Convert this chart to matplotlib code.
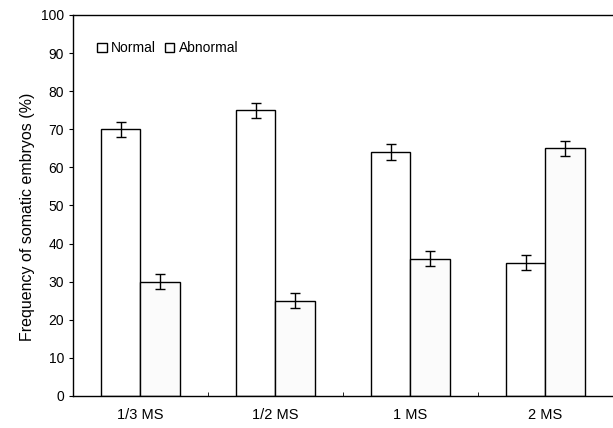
import matplotlib
matplotlib.use("Agg")
import matplotlib.pyplot as plt
import numpy as np

plt.rcParams["font.family"] = ["Liberation Sans", "DejaVu Sans"]

# data
media = ["1/3 MS", "1/2 MS", "1 MS", "2 MS"]
normal = [70, 75, 64, 35]
abnormal = [30, 25, 36, 65]
normal_err = [2, 2, 2, 2]
abnormal_err = [2, 2, 2, 2]

fig = plt.figure(figsize=(6.13, 4.28), dpi=100)
ax = fig.add_axes([0.119, 0.075, 0.881, 0.89])

x = np.arange(len(media))
w = 0.29
ekw = dict(ecolor="black", elinewidth=1.0, capsize=3.5, capthick=1.0)
ax.bar(x - w / 2, normal, w, yerr=normal_err, color="white", edgecolor="black",
       lw=1.0, error_kw=ekw, label="Normal")
ax.bar(x + w / 2, abnormal, w, yerr=abnormal_err, color="#fbfbfb", edgecolor="black",
       lw=1.0, error_kw=ekw, label="Abnormal")

ax.set_xlim(-0.5, 3.5)
ax.set_ylim(0, 100)
ax.set_yticks(range(0, 101, 10))
ax.set_xticks(x)
ax.set_xticklabels(media, fontsize=10.5)
ax.tick_params(axis="x", length=0, pad=9)
ax.tick_params(axis="y", labelsize=10, length=3, direction="out")
ax.set_xticks([0.5, 1.5, 2.5], minor=True)
ax.tick_params(axis="x", which="minor", length=3, direction="in")
ax.spines["right"].set_visible(False)
for s in ("left", "bottom", "top"):
    ax.spines[s].set_linewidth(1.0)
ax.set_ylabel("Frequency of somatic embryos (%)", fontsize=11.5)
ax.yaxis.set_label_coords(-0.07, 0.47)

ax.legend(loc="upper left", bbox_to_anchor=(0.035, 0.945), ncol=2, frameon=False,
          fontsize=10, handlelength=0.7, handleheight=0.7, handletextpad=0.3,
          columnspacing=0.6, borderaxespad=0)

fig.savefig("out.png", dpi=100)
